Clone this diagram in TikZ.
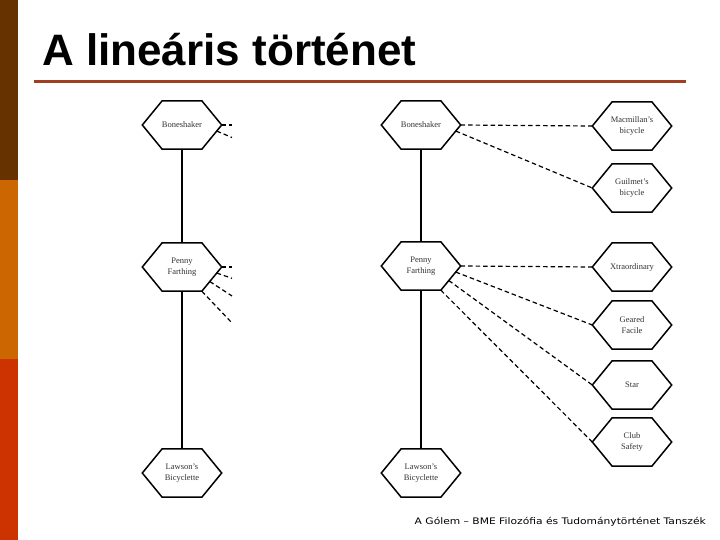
\documentclass[tikz,border=0pt]{standalone}
\usepackage{fontspec}
\setmainfont{Liberation Serif}
\newfontfamily\titlefont{Liberation Sans}
\newfontfamily\footfont{DejaVu Sans}
\usetikzlibrary{calc}
\definecolor{barA}{RGB}{102,51,0}
\definecolor{barB}{RGB}{204,102,0}
\definecolor{barC}{RGB}{204,51,0}
\definecolor{rulecol}{RGB}{160,64,32}
\begin{document}
\begin{tikzpicture}[x=1pt,y=-1pt,
  hexbox/.style={minimum width=79pt,minimum height=48pt,inner sep=0pt,align=center,
    font=\fontsize{8.5}{11}\selectfont,text=black!80},
  hexline/.style={line width=1.5pt,line join=miter},
  solidline/.style={line width=1.4pt},
  dashline/.style={line width=1.2pt,dash pattern=on 4.5pt off 3pt}]
\useasboundingbox (0,0) rectangle (720,540);
\fill[white] (0,0) rectangle (720,540);
\fill[barA] (0,0) rectangle (17.5,180);
\fill[barB] (0,180) rectangle (17.5,359);
\fill[barC] (0,359) rectangle (17.5,540);
\node[anchor=base west,inner sep=0pt,font=\titlefont\bfseries\fontsize{44}{44}\selectfont] (title) at (42,66) {A lineáris történet};
\draw[rulecol,line width=3pt] (34,82) -- (686,82);

% left figure
\node[hexbox] (Lbs) at (182,125) {Boneshaker};
\node[hexbox] (Lpf) at (182,267) {Penny\\Farthing};
\node[hexbox] (Llb) at (182,473) {Lawson’s\\Bicyclette};
% right figure
\node[hexbox] (Rbs) at (421,125) {Boneshaker};
\node[hexbox] (Rmc) at (632,126) {Macmillan’s\\bicycle};
\node[hexbox] (Rgu) at (632,188) {Guilmet’s\\bicycle};
\node[hexbox] (Rpf) at (421,266) {Penny\\Farthing};
\node[hexbox] (Rxt) at (632,267) {Xtraordinary};
\node[hexbox] (Rgf) at (632,325) {Geared\\Facile};
\node[hexbox] (Rst) at (632,385) {Star};
\node[hexbox] (Rcs) at (632,442) {Club\\Safety};
\node[hexbox] (Rlb) at (421,473) {Lawson’s\\Bicyclette};

\foreach \n in {Lbs,Lpf,Llb,Rbs,Rmc,Rgu,Rpf,Rxt,Rgf,Rst,Rcs,Rlb}{
  \draw[hexline] (\n.west) -- ($(\n.north west)!0.25!(\n.north east)$)
    -- ($(\n.north west)!0.75!(\n.north east)$) -- (\n.east)
    -- ($(\n.south west)!0.75!(\n.south east)$)
    -- ($(\n.south west)!0.25!(\n.south east)$) -- cycle;
  \coordinate (\n-br) at ($(\n.south west)!0.75!(\n.south east)$);
}

% solid connectors
\draw[solidline] (Lbs.south) -- (Lpf.north);
\draw[solidline] (Lpf.south) -- (Llb.north);
\draw[solidline] (Rbs.south) -- (Rpf.north);
\draw[solidline] (Rpf.south) -- (Rlb.north);

% right dashed connectors
\draw[dashline] (Rbs.east) -- (Rmc.west);
\draw[dashline] ($(Rbs.east)!0.25!(Rbs-br)$) -- (Rgu.west);
\draw[dashline] (Rpf.east) -- (Rxt.west);
\draw[dashline] ($(Rpf.east)!0.25!(Rpf-br)$) -- (Rgf.west);
\draw[dashline] ($(Rpf.east)!0.6!(Rpf-br)$) -- (Rst.west);
\draw[dashline] (Rpf-br) -- (Rcs.west);

% left dashed stubs
\coordinate (Ls1) at (232,125);
\coordinate (Ls2) at (232,137.5);
\coordinate (Ls3) at (232,267);
\coordinate (Ls4) at (232,278.3);
\coordinate (Ls5) at (232,296);
\coordinate (Ls6) at (232,323);
\draw[dashline] (Lbs.east) -- (Ls1);
\draw[dashline] ($(Lbs.east)!0.25!(Lbs-br)$) -- (Ls2);
\draw[dashline] (Lpf.east) -- (Ls3);
\draw[dashline] ($(Lpf.east)!0.25!(Lpf-br)$) -- (Ls4);
\draw[dashline] ($(Lpf.east)!0.6!(Lpf-br)$) -- (Ls5);
\draw[dashline] (Lpf-br) -- (Ls6);

\node[anchor=base east,inner sep=0pt,font=\footfont\fontsize{9}{11}\selectfont] (foot) at (706,524) {\scalebox{1.19}[1]{A Gólem – BME Filozófia és Tudománytörténet Tanszék}};
\end{tikzpicture}
\end{document}
